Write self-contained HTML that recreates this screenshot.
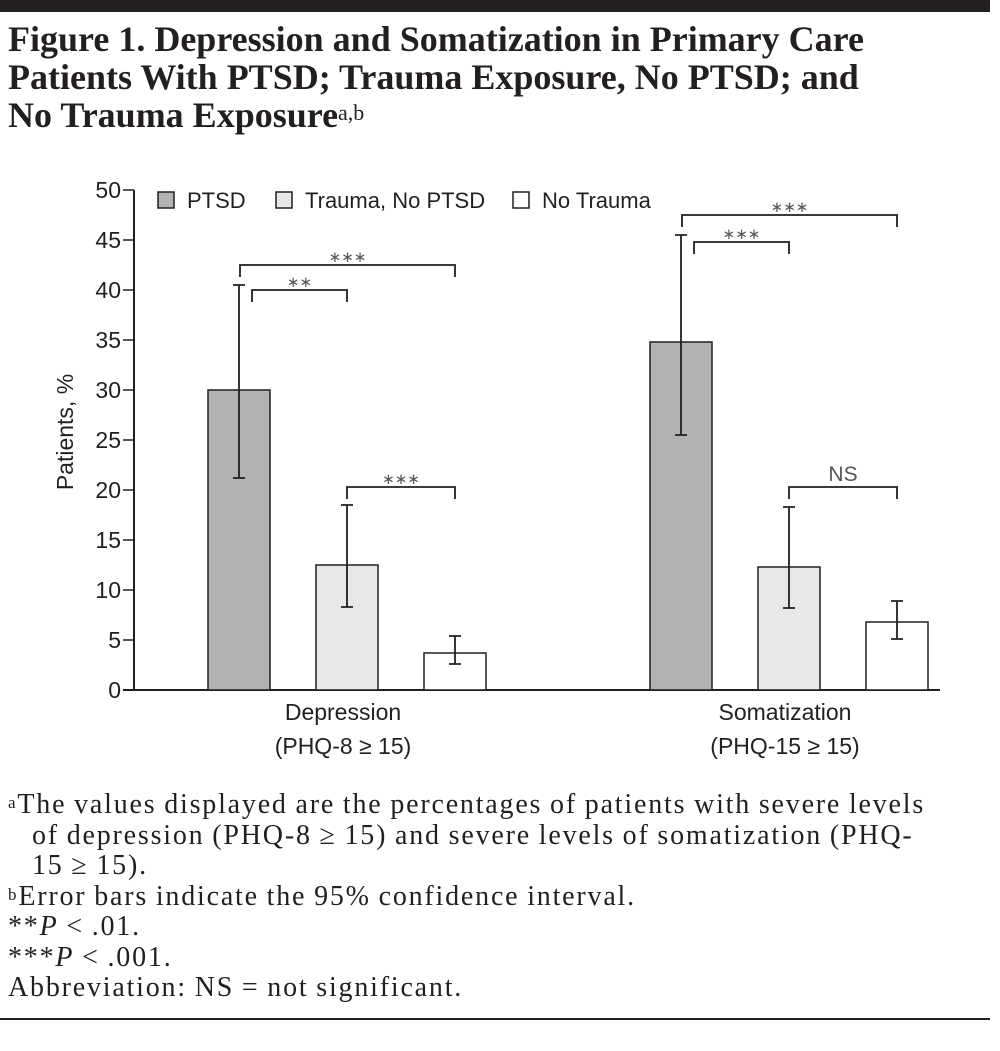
<!DOCTYPE html>
<html><head><meta charset="utf-8"><style>
body{margin:0;width:1000px;height:1051px;background:#fff;overflow:hidden;position:relative;font-family:"Liberation Serif",serif;color:#231f20}
.title{position:absolute;left:8px;top:20px;font-size:36px;font-weight:bold;line-height:38px;letter-spacing:0px}
.notes{position:absolute;left:8px;top:790px;font-size:28px;line-height:30.5px;letter-spacing:1.8px;word-spacing:-1px}
sup{font-size:17px;vertical-align:top;position:relative;top:-2px}
</style></head><body>
<div style="position:absolute;left:0;top:0;width:990px;height:12px;background:#231f20"></div>
<div class="title">Figure 1. Depression and Somatization in Primary Care<br>Patients With PTSD; Trauma Exposure, No PTSD; and<br>No Trauma Exposure<sup style="font-weight:normal;font-size:22px">a,b</sup></div>
<svg id="chart" width="1000" height="780" style="position:absolute;left:0;top:0" font-family="'Liberation Sans',sans-serif"></svg>
<div class="notes">
<div><sup>a</sup>The values displayed are the percentages of patients with severe levels</div>
<div style="padding-left:24px">of depression (PHQ-8 ≥ 15) and severe levels of somatization (PHQ-</div>
<div style="padding-left:24px">15 ≥ 15).</div>
<div><sup>b</sup>Error bars indicate the 95% confidence interval.</div>
<div>**<i>P</i> &lt; .01.</div>
<div>***<i>P</i> &lt; .001.</div>
<div>Abbreviation: NS = not significant.</div>
</div>
<div style="position:absolute;left:0;top:1018px;width:990px;height:2px;background:#231f20"></div>
<script>
const groups=["Depression","Somatization"];
const groupSub=["(PHQ-8 ≥ 15)","(PHQ-15 ≥ 15)"];
const seriesNames=["PTSD","Trauma, No PTSD","No Trauma"];
const values=[[30,12.5,3.7],[34.8,12.3,6.8]];
const ciLow=[[21.2,8.3,2.6],[25.5,8.2,5.1]];
const ciHigh=[[40.5,18.5,5.4],[45.5,18.3,8.9]];
const yTicks=[0,5,10,15,20,25,30,35,40,45,50];
const brackets=[{g:0,a:0,b:2,y:42.5,label:"***"},{g:0,a:0,b:1,y:40,label:"**"},{g:0,a:1,b:2,y:20.3,label:"***"},
{g:1,a:0,b:2,y:47.5,label:"***"},{g:1,a:0,b:1,y:44.8,label:"***"},{g:1,a:1,b:2,y:20.3,label:"NS"}];
const fills=["#b2b2b2","#e8e8e8","#ffffff"];
const svg=document.getElementById('chart');const NS="http://www.w3.org/2000/svg";
function el(t,a,p){const e=document.createElementNS(NS,t);for(const k in a)e.setAttribute(k,a[k]);(p||svg).appendChild(e);return e;}
const y=v=>690-v*10;
const groupX=[208,650];
const x=(g,s)=>groupX[g]+s*108;
const bw=62;
let ax=el('line',{x1:134,y1:190,x2:134,y2:690,stroke:'#231f20','stroke-width':2});


let bl=el('line',{x1:123,y1:690,x2:940,y2:690,stroke:'#231f20','stroke-width':2});


yTicks.forEach(t=>{
 let l=el('line',{x1:123,y1:y(t),x2:134,y2:y(t),stroke:'#231f20','stroke-width':1.5});
 
 
 let tx=el('text',{x:121,y:y(t)+8,'text-anchor':'end','font-size':23,fill:'#231f20'});tx.textContent=t;
 
 
});
let yt=el('text',{transform:'translate(73,432) rotate(-90)','text-anchor':'middle','font-size':23,fill:'#231f20'});yt.textContent='Patients, %';


values.forEach((vals,g)=>{
 vals.forEach((v,s)=>{
  let r=el('rect',{x:x(g,s),y:y(v),width:bw,height:y(0)-y(v),fill:fills[s],stroke:'#231f20','stroke-width':1.5});
  
  
  const cx=x(g,s)+bw/2;
  let eb=el('path',{d:`M${cx},${y(ciLow[g][s])}V${y(ciHigh[g][s])}M${cx-6},${y(ciLow[g][s])}h12M${cx-6},${y(ciHigh[g][s])}h12`,stroke:'#231f20','stroke-width':1.8,fill:'none'});
  
  
 });
 const mid=x(g,1)+bw/2-4;
 let t1=el('text',{x:mid,y:720,'text-anchor':'middle','font-size':23,fill:'#231f20'});t1.textContent=groups[g];
 
 
 let t2=el('text',{x:mid,y:754,'text-anchor':'middle','font-size':23,fill:'#231f20'});t2.textContent=groupSub[g];
 
 
});
brackets.forEach(b=>{
 const x1=b.a===0?(b.b===2?x(b.g,0)+32:x(b.g,0)+44):x(b.g,b.a)+bw/2, x2=x(b.g,b.b)+bw/2;
 const yy=y(b.y);
 let p=el('path',{d:`M${x1},${yy+12}V${yy}H${x2}V${yy+12}`,stroke:'#231f20','stroke-width':1.8,fill:'none'});
 
 
 let t=el('text',{x:(x1+x2)/2,y:yy-(b.label==='NS'?6:3),'text-anchor':'middle','font-size':b.label==='NS'?21:15,fill:'#555'});t.textContent=b.label==='NS'?'NS':'∗∗∗'.slice(0,b.label.length);
 
 
});
const legX=[158,276,513];
seriesNames.forEach((n,s)=>{
 let r=el('rect',{x:legX[s],y:192,width:16,height:16,fill:fills[s],stroke:'#231f20','stroke-width':1.5});
 
 
 let t=el('text',{x:legX[s]+29,y:208,'font-size':22,fill:'#231f20'});t.textContent=n;
 
 
});
</script>
</body></html>
